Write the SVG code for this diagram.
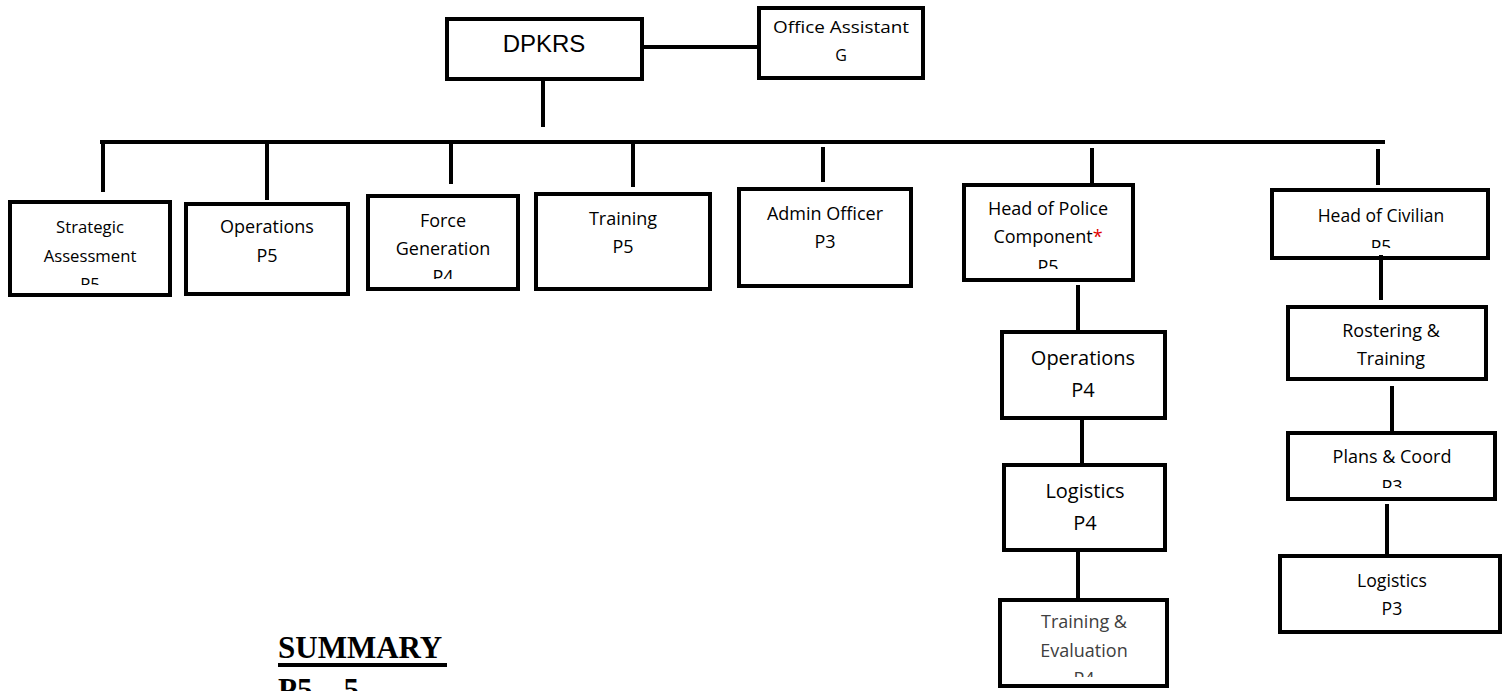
<svg xmlns="http://www.w3.org/2000/svg" width="1511" height="691" viewBox="0 0 1511 691">
<style>
.box{fill:#fff;stroke:#000;stroke-width:4}
.ln{stroke:#000;stroke-width:4;fill:none}
.t{font-family:"Open Sans","Liberation Sans",sans-serif;font-size:18px;fill:#000;text-anchor:middle}
.s{font-size:16.7px}
.b{font-size:20px}
.g{fill:#404040}
.star{fill:#e00000}
.sum{font-family:"Liberation Serif","Times New Roman",serif;font-weight:bold;font-size:31px;fill:#000}
</style>
<defs>
<clipPath id="cStrat"><rect x="10" y="202" width="160" height="83"/></clipPath>
<clipPath id="cForce"><rect x="368" y="196" width="150" height="83"/></clipPath>
<clipPath id="cPol"><rect x="964" y="185" width="169" height="84"/></clipPath>
<clipPath id="cCiv"><rect x="1272" y="190" width="216" height="58"/></clipPath>
<clipPath id="cTE"><rect x="1000" y="600" width="167" height="77"/></clipPath>
<clipPath id="cPlans"><rect x="1288" y="433" width="207" height="55"/></clipPath>
</defs>
<g id="connectors">
<line class="ln" x1="644" y1="47" x2="757" y2="47"/>
<line class="ln" x1="543" y1="81" x2="543" y2="127"/>
<line class="ln" x1="100" y1="142" x2="1385" y2="142"/>
<line class="ln" x1="103" y1="142" x2="103" y2="192"/>
<line class="ln" x1="267" y1="142" x2="267" y2="200"/>
<line class="ln" x1="451" y1="142" x2="451" y2="184"/>
<line class="ln" x1="633" y1="142" x2="633" y2="187"/>
<line class="ln" x1="823" y1="147" x2="823" y2="182"/>
<line class="ln" x1="1092" y1="148" x2="1092" y2="185"/>
<line class="ln" x1="1378" y1="149" x2="1378" y2="185"/>
<line class="ln" x1="1078" y1="285" x2="1078" y2="330"/>
<line class="ln" x1="1082" y1="420" x2="1082" y2="463"/>
<line class="ln" x1="1078" y1="552" x2="1078" y2="598"/>
<line class="ln" x1="1392" y1="386" x2="1392" y2="431"/>
<line class="ln" x1="1387" y1="504" x2="1387" y2="554"/>
</g>
<g id="dpkrs">
<rect class="box" x="447" y="19" width="195" height="60"/>
<text x="544" y="52" style="font-family:'Liberation Sans',Arial,sans-serif;font-size:24px;text-anchor:middle">DPKRS</text>
</g>
<g id="office-assistant">
<rect class="box" x="759" y="8" width="164" height="70"/>
<text class="t" x="841" y="33" style="font-size:16px" textLength="136" lengthAdjust="spacingAndGlyphs">Office Assistant</text>
<text class="t" x="841" y="61" style="font-size:16px">G</text>
</g>
<g id="strategic">
<rect class="box" x="10" y="202" width="160" height="93"/>
<g clip-path="url(#cStrat)">
<text class="t s" x="90" y="233">Strategic</text>
<text class="t s" x="90" y="262">Assessment</text>
<text class="t s" x="90" y="290">P5</text>
</g>
</g>
<g id="operations">
<rect class="box" x="186" y="204" width="162" height="90"/>
<text class="t" x="267" y="233">Operations</text>
<text class="t" x="267" y="262">P5</text>
</g>
<g id="force-generation">
<rect class="box" x="368" y="196" width="150" height="93"/>
<g clip-path="url(#cForce)">
<text class="t" x="443" y="227">Force</text>
<text class="t" x="443" y="255">Generation</text>
<text class="t" x="443" y="283">P4</text>
</g>
</g>
<g id="training">
<rect class="box" x="536" y="194" width="174" height="95"/>
<text class="t" x="623" y="225">Training</text>
<text class="t" x="623" y="253">P5</text>
</g>
<g id="admin-officer">
<rect class="box" x="739" y="189" width="172" height="97"/>
<text class="t" x="825" y="220">Admin Officer</text>
<text class="t" x="825" y="248">P3</text>
</g>
<g id="head-police">
<rect class="box" x="964" y="185" width="169" height="95"/>
<g clip-path="url(#cPol)">
<text class="t" x="1048" y="215">Head of Police</text>
<text class="t" x="1048" y="243">Component<tspan class="star">*</tspan></text>
<text class="t" x="1048" y="273">P5</text>
</g>
</g>
<g id="police-operations">
<rect class="box" x="1002" y="332" width="163" height="86"/>
<text class="t b" x="1083" y="365">Operations</text>
<text class="t b" x="1083" y="397">P4</text>
</g>
<g id="police-logistics">
<rect class="box" x="1004" y="465" width="161" height="85"/>
<text class="t b" x="1085" y="498">Logistics</text>
<text class="t b" x="1085" y="530">P4</text>
</g>
<g id="training-evaluation">
<rect class="box" x="1000" y="600" width="167" height="86"/>
<g clip-path="url(#cTE)">
<text class="t g" x="1084" y="628">Training &amp;</text>
<text class="t g" x="1084" y="657">Evaluation</text>
<text class="t g" x="1084" y="685">P4</text>
</g>
</g>
<g id="head-civilian">
<rect class="box" x="1272" y="190" width="216" height="68"/>
<g clip-path="url(#cCiv)">
<text class="t" x="1381" y="222" style="font-size:17.5px">Head of Civilian</text>
<text class="t" x="1381" y="253" style="font-size:17.5px">P5</text>
</g>
</g>
<line class="ln" x1="1381" y1="255" x2="1381" y2="300"/>
<g id="rostering-training">
<rect class="box" x="1288" y="307" width="198" height="72"/>
<text class="t" x="1391" y="337">Rostering &amp;</text>
<text class="t" x="1391" y="365">Training</text>
</g>
<g id="plans-coord">
<rect class="box" x="1288" y="433" width="207" height="66"/>
<g clip-path="url(#cPlans)">
<text class="t" x="1392" y="463">Plans &amp; Coord</text>
<text class="t" x="1392" y="493">P3</text>
</g>
</g>
<g id="civilian-logistics">
<rect class="box" x="1280" y="556" width="220" height="76"/>
<text class="t" x="1392" y="587" style="font-size:17.7px">Logistics</text>
<text class="t" x="1392" y="615" style="font-size:17.7px">P3</text>
</g>
<g id="summary">
<text class="sum" x="278" y="658">SUMMARY</text>
<line x1="278" y1="665" x2="447" y2="665" stroke="#000" stroke-width="4"/>
<text class="sum" x="278" y="700">P5 – 5</text>
</g>
</svg>
